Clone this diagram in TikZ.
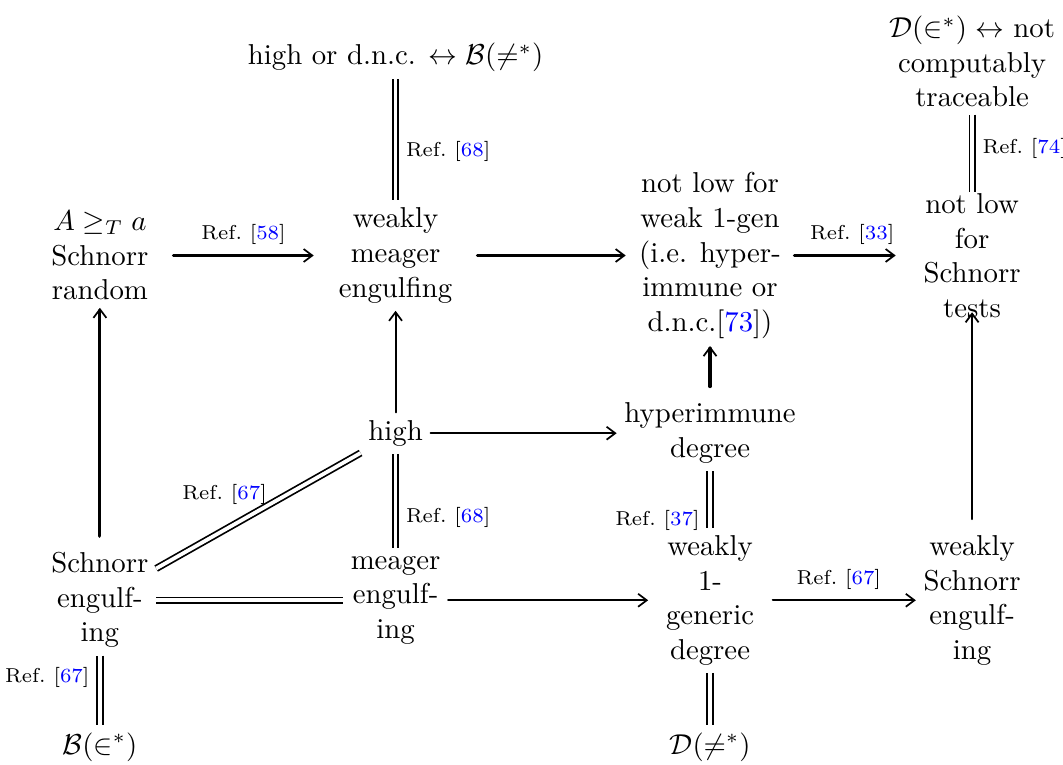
\documentclass[tikz,border=0pt]{standalone}
\usetikzlibrary{arrows.meta}
\newcommand{\citeref}[1]{Ref.~[\textcolor{blue}{#1}]}

\begin{document}
\begin{tikzpicture}[line join=round, line cap=round, >={Straight Barb[length=3pt,width=4.5pt,line width=0.6pt]},
	box/.style={inner sep=2.5pt, align=center},
	imp/.style={->, line width=0.7pt},
	strong/.style={->, line width=1.1pt},
	equiv/.style={double, line width=0.6pt, double distance=1.3pt, line cap=butt},
	lbl/.style={font=\scriptsize}]
	\useasboundingbox (0,0) rectangle (12.98,9.33);

	% Hàng trên cùng
	\node[box] (hd) at (4.83,8.63) {high or d.n.c. $\leftrightarrow \mathcal{B}(\neq^*)$};
	\node[box] (ct) at (11.87,8.58) {$\mathcal{D}(\in^*) \leftrightarrow$ not\\computably\\traceable};
	% Hàng thứ nhất
	\node[box] (sr) at (1.22,6.21) {$A \geq_T a$\\Schnorr\\random};
	\node[box] (wme) at (4.83,6.21) {weakly\\meager\\engulfing};
	\node[box] (nlw) at (8.67,6.21) {not low for\\weak 1-gen\\(i.e. hyper-\\immune or\\d.n.c.[\textcolor{blue}{73}])};
	\node[box] (nls) at (11.87,6.21) {not low\\for\\Schnorr\\tests};
	% Hàng thứ hai
	\node[box] (hi) at (4.83,4.04) {high};
	\node[box] (hyp) at (8.67,4.04) {hyperimmune\\degree};
	% Hàng thứ ba
	\node[box] (se) at (1.22,2.00) {Schnorr\\engulf-\\ing};
	\node[box] (me) at (4.83,2.00) {meager\\engulf-\\ing};
	\node[box] (wg) at (8.67,2.00) {weakly\\1-\\generic\\degree};
	\node[box] (wse) at (11.87,2.00) {weakly\\Schnorr\\engulf-\\ing};
	% Hàng dưới cùng
	\node[box] (bin) at (1.22,0.21) {$\mathcal{B}(\in^*)$};
	\node[box] (dne) at (8.67,0.21) {$\mathcal{D}(\neq^*)$};

	% Các mũi tên kéo theo
	\draw[strong, shorten <=6pt, shorten >=6pt] (sr) -- node[above, lbl]{\citeref{58}} (wme);
	\draw[strong, shorten <=6pt, shorten >=2pt] (wme) -- (nlw);
	\draw[strong, shorten <=2pt, shorten >=7pt] (nlw) -- node[above, lbl]{\citeref{33}} (nls);
	\draw[imp] (hi) -- (hyp);
	\draw[imp] (hi) -- (wme);
	\draw[strong, shorten <=3pt] (hyp) -- (nlw);
	\draw[strong, shorten <=3pt] (se) -- (sr);
	\draw[imp, shorten <=3pt, shorten >=-4.5pt] (wse) -- (nls);
	\draw[imp, shorten >=3.5pt] (me) -- (wg);
	\draw[imp, shorten <=3.8pt] (wg) -- node[above, lbl]{\citeref{67}} (wse);

	% Các đường tương đương
	\draw[equiv] (hd) -- node[right, lbl, pos=0.6]{\citeref{68}} (wme);
	\draw[equiv, shorten >=-2pt] (ct) -- node[right, lbl, pos=0.47]{\citeref{74}} (nls);
	\draw[equiv] (hi) -- node[right, lbl, pos=0.67]{\citeref{68}} (me);
	\draw[equiv] (hyp) -- node[left, lbl, pos=0.87]{\citeref{37}} (wg);
	\draw[equiv] (se) -- node[left, lbl, pos=0.32]{\citeref{67}} (bin);
	\draw[equiv] (wg) -- (dne);
	\draw[equiv] (se) -- (me);
	\draw[equiv] (se) -- node[above left, lbl, pos=0.55, xshift=3pt, yshift=-3.5pt]{\citeref{67}} (hi);

\end{tikzpicture}
\end{document}
